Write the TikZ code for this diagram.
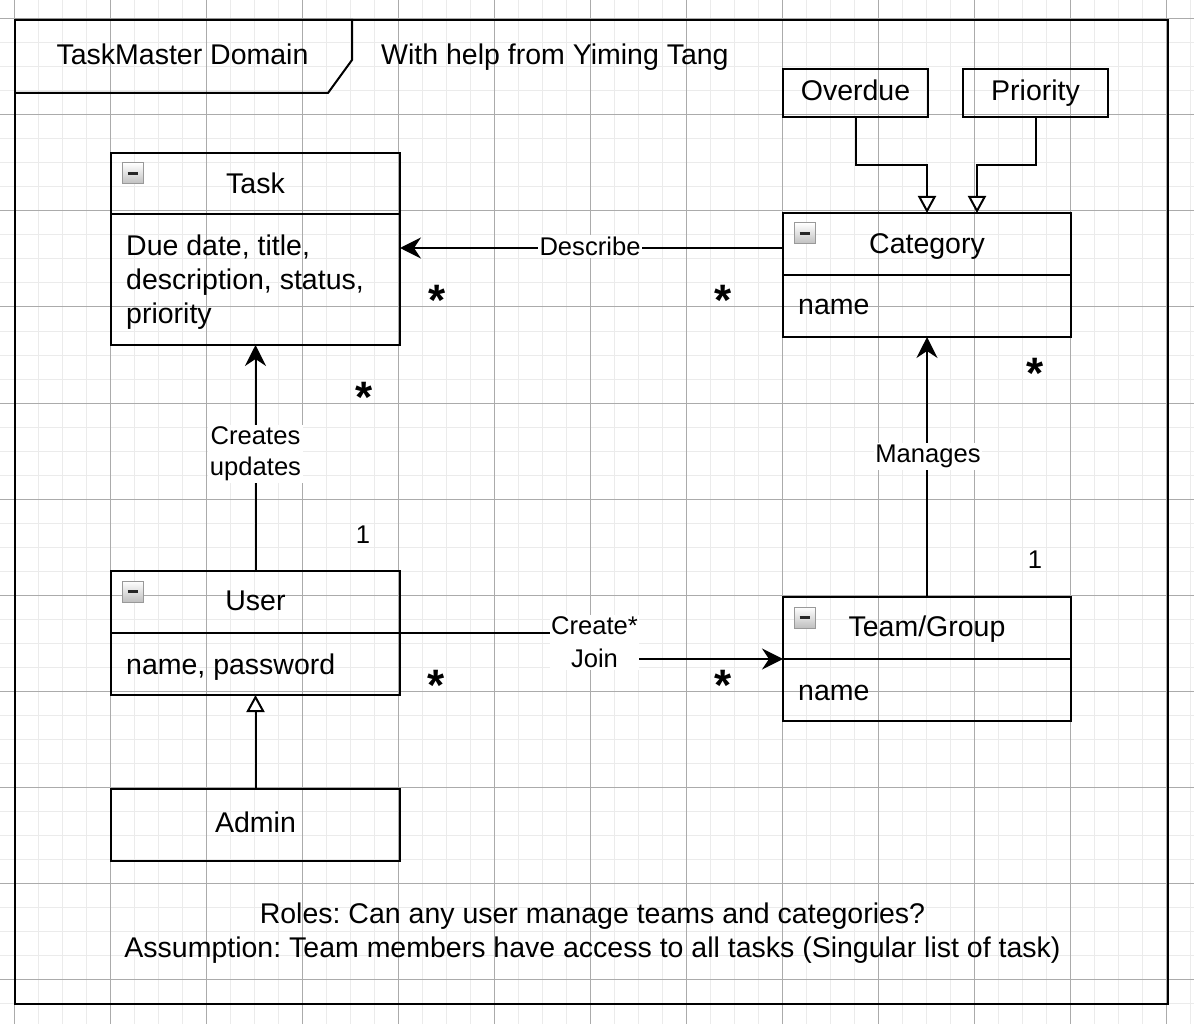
\documentclass[tikz,border=0pt]{standalone}
\usepackage{fontspec}
\setmainfont{Liberation Sans}
\usetikzlibrary{arrows.meta}
\frenchspacing
\tikzset{
  gridminor/.style={draw=black!8, line width=1pt},
  gridmajor/.style={draw=black!33, line width=1pt},
  box/.style={draw=black, line width=2pt, anchor=north west, inner sep=0pt, outer sep=0pt},
  txt/.style={inner sep=0pt, font=\fontsize{28.5}{34}\selectfont},
  lbl/.style={fill=white, inner xsep=1.5pt, inner ysep=2pt, font=\fontsize{25.6}{31}\selectfont, align=center},
  mult/.style={inner sep=0pt, anchor=base, font=\fontsize{25.6}{30}\selectfont},
  star/.style={inner sep=0pt, anchor=base, font=\fontsize{44}{44}\selectfont\bfseries},
  conn/.style={draw=black, line width=2pt},
  assoc/.style={conn, -{Stealth[length=21pt,width=21pt,inset=7pt]}},
  gen/.style={conn, -{Triangle[open,length=17pt,width=18pt,fill=white]}},
  cicon/.pic={
    \shade[top color=white, bottom color=black!25, draw=black!40, line width=1pt] (0,0) rectangle (21,21);
    \draw[line width=2.5pt, black!85] (5.5,10.5) -- (15.5,10.5);
  }
}
\begin{document}
\begin{tikzpicture}[x=1pt,y=-1pt]
\useasboundingbox (0,0) rectangle (1194,1024);
% background grid
\foreach \i in {0,...,49} { \draw[gridminor] ({14.5+24*\i},0) -- ({14.5+24*\i},1024); }
\foreach \j in {0,...,42} { \draw[gridminor] (0,{19+24*\j}) -- (1194,{19+24*\j}); }
\foreach \i in {0,...,12} { \draw[gridmajor] ({14.5+96*\i},0) -- ({14.5+96*\i},1024); }
\foreach \j in {0,...,10} { \draw[gridmajor] (0,{19+96*\j}) -- (1194,{19+96*\j}); }

% frame
\node[box, minimum width=1153pt, minimum height=984pt] (frame) at (15,20) {};
\draw[conn] (frame.north west) -- ++(337,0) -- ++(0,40) -- ++(-24,33) -- ++(-313,0);
\node[txt, anchor=base] (ttitle) at (182.5,65) {TaskMaster Domain};
\node[txt, anchor=base west] (thelp) at (381,65) {With help from Yiming Tang};

% boxes
\node[box, minimum width=289pt, minimum height=61pt] (taskH) at (111,153) {};
\node[box, minimum width=289pt, minimum height=131pt] (taskB) at (111,214) {};
\node[box, minimum width=288pt, minimum height=62pt] (catH) at (783,213) {};
\node[box, minimum width=288pt, minimum height=62pt] (catB) at (783,275) {};
\node[box, minimum width=289pt, minimum height=62pt] (userH) at (111,571) {};
\node[box, minimum width=289pt, minimum height=62pt] (userB) at (111,633) {};
\node[box, minimum width=288pt, minimum height=62pt] (teamH) at (783,597) {};
\node[box, minimum width=288pt, minimum height=62pt] (teamB) at (783,659) {};
\node[box, minimum width=289pt, minimum height=72pt] (admin) at (111,789) {};
\node[box, minimum width=145pt, minimum height=48pt] (overdue) at (783,69) {};
\node[box, minimum width=145pt, minimum height=48pt] (priority) at (963,69) {};

\pic at ([shift={(11,10)}]taskH.north west) {cicon};
\pic at ([shift={(11,10)}]catH.north west) {cicon};
\pic at ([shift={(11,10)}]userH.north west) {cicon};
\pic at ([shift={(11,10)}]teamH.north west) {cicon};

% box texts
\node[txt, anchor=base] (ttask) at (255.5,193.3) {Task};
\node[txt, anchor=north west, align=left] (tattr) at (126,235) {Due date, title,\\description, status,\\priority};
\node[txt, anchor=base] (tcat) at (927,253.3) {Category};
\node[txt, anchor=base west] (tcatn) at (798,315) {name};
\node[txt, anchor=base] (tover) at (855.5,100.7) {Overdue};
\node[txt, anchor=base] (tprio) at (1035.5,100.7) {Priority};
\node[txt, anchor=base] (tuser) at (255.5,610) {User};
\node[txt, anchor=base west] (tusern) at (126,674.3) {name, password};
\node[txt, anchor=base] (tteam) at (927,636) {Team/Group};
\node[txt, anchor=base west] (tteamn) at (798,700) {name};
\node[txt, anchor=base] (tadmin) at (255.5,832.7) {Admin};

% connectors
\draw[assoc] (userH.north) -- (taskB.south);
\draw[assoc] ([yshift=-4pt]catH.west) -- ([yshift=-4pt]catH.west -| taskB.east);
\draw[assoc] (teamH.north) -- (catB.south);
\coordinate (cjbend) at (594.5,645);
\draw[assoc] (userB.north east) -| (cjbend) |- (teamB.north west);
\draw[gen] (admin.north) -- (userB.south);
\draw[gen] (overdue.south) -- ++(0,48) -| (catH.north);
\draw[gen] (priority.south) -- ++(0,48) -| ([xshift=50pt]catH.north);

% connector labels
\node[lbl, anchor=base] (ldesc) at (590,255.7) {Describe};
\node[lbl, anchor=base] (lman) at (928,462.7) {Manages};
\node[lbl, anchor=north] (lcre) at (255.5,424.5) {Creates\\updates};
\node[lbl, anchor=north, font=\fontsize{25.6}{33}\selectfont] (ljoin) at (594.5,614.5) {Create*\\Join};

% multiplicities
\node[star] (m1) at (436.7,315.3) {*};
\node[star] (m2) at (723.3,315.3) {*};
\node[star] (m3) at (364,412.8) {*};
\node[mult] (m4) at (363,543) {1};
\node[star] (m5) at (1035.5,388.8) {*};
\node[mult] (m6) at (1035,568) {1};
\node[star] (m7) at (435.8,700.6) {*};
\node[star] (m8) at (723,700.6) {*};

% note
\node[txt, anchor=north, align=center] (tnote) at (592.5,903) {Roles: Can any user manage teams and categories?\\Assumption: Team members have access to all tasks (Singular list of task)};
\end{tikzpicture}
\end{document}
